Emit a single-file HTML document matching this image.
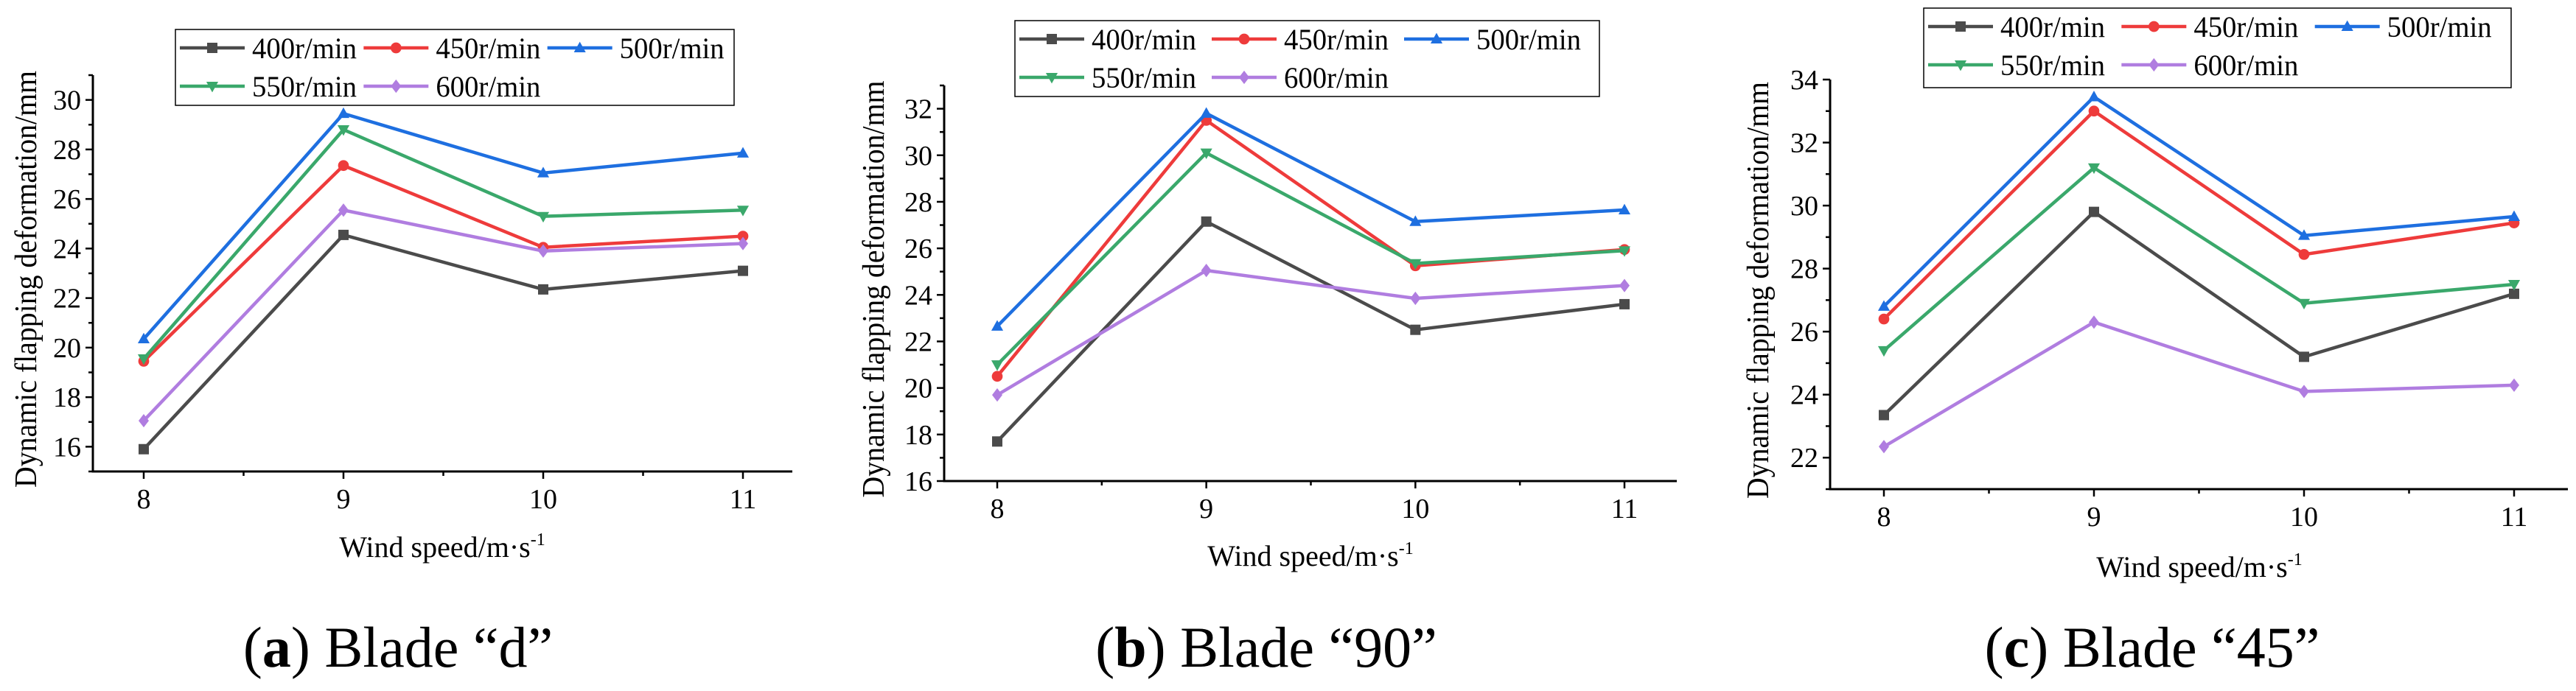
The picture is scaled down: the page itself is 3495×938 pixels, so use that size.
<!DOCTYPE html>
<html><head><meta charset="utf-8"><style>
html,body{margin:0;padding:0;background:#fff}
svg{display:block;font-family:"Liberation Serif",serif}
</style></head><body>
<svg id="fig" width="3495" height="938" viewBox="0 0 3495 938" xmlns="http://www.w3.org/2000/svg"></svg>
<script>
const windSpeeds = [8, 9, 10, 11];
const seriesNames = ["400r/min", "450r/min", "500r/min", "550r/min", "600r/min"];
const seriesColors = ["#4b4b4b", "#ee3b3b", "#1e6fe0", "#3aa86b", "#b07de0"];
const seriesMarkers = ["square", "circle", "up", "down", "diamond"];
const bladeD_400 = [15.9, 24.55, 22.35, 23.1];
const bladeD_450 = [19.45, 27.35, 24.05, 24.5];
const bladeD_500 = [20.35, 29.45, 27.05, 27.85];
const bladeD_550 = [19.55, 28.8, 25.3, 25.55];
const bladeD_600 = [17.05, 25.55, 23.9, 24.2];
const blade90_400 = [17.7, 27.15, 22.5, 23.6];
const blade90_450 = [20.5, 31.5, 25.25, 25.95];
const blade90_500 = [22.65, 31.8, 27.15, 27.65];
const blade90_550 = [21.0, 30.1, 25.35, 25.9];
const blade90_600 = [19.7, 25.05, 23.85, 24.4];
const blade45_400 = [23.35, 29.8, 25.2, 27.2];
const blade45_450 = [26.4, 33.0, 28.45, 29.45];
const blade45_500 = [26.8, 33.45, 29.05, 29.65];
const blade45_550 = [25.4, 31.2, 26.9, 27.5];
const blade45_600 = [22.35, 26.3, 24.1, 24.3];
const ticksA = [16, 18, 20, 22, 24, 26, 28, 30];
const ticksB = [16, 18, 20, 22, 24, 26, 28, 30, 32];
const ticksC = [22, 24, 26, 28, 30, 32, 34];

const NS = "http://www.w3.org/2000/svg";
const svg = document.getElementById("fig");
function mk(tag, attrs, parent, text) {
  const e = document.createElementNS(NS, tag);
  for (const k in attrs) e.setAttribute(k, attrs[k]);
  if (text !== undefined) e.textContent = text;
  (parent || svg).appendChild(e);
  return e;
}
function marker(g, type, x, y, c, s) {
  let m;
  if (type === "square") m = mk("rect", {x: x - s, y: y - s, width: 2 * s, height: 2 * s, fill: c}, g);
  else if (type === "circle") m = mk("circle", {cx: x, cy: y, r: s * 1.05, fill: c}, g);
  else if (type === "up") m = mk("polygon", {points: `${x},${y - s * 1.2} ${x - s * 1.15},${y + s * 0.85} ${x + s * 1.15},${y + s * 0.85}`, fill: c}, g);
  else if (type === "down") m = mk("polygon", {points: `${x},${y + s * 1.2} ${x - s * 1.15},${y - s * 0.85} ${x + s * 1.15},${y - s * 0.85}`, fill: c}, g);
  else m = mk("polygon", {points: `${x},${y - s * 1.3} ${x + s},${y} ${x},${y + s * 1.3} ${x - s},${y}`, fill: c}, g);
  
  
  return m;
}

const panels = [
  {id: "a", letter: "a", title: " Blade \u201cd\u201d", left: 126, right: 1075, top: 102, bottom: 640, xfirst: 195, xlast: 1008, ymin: 15, ymax: 31, ticks: ticksA,
   data: [bladeD_400, bladeD_450, bladeD_500, bladeD_550, bladeD_600], leg: [238, 40, 758, 103], ytx: 36, xtx: 600, xty: 756, capx: 540},
  {id: "b", letter: "b", title: " Blade \u201c90\u201d", left: 1281, right: 2275, top: 116, bottom: 653, xfirst: 1353, xlast: 2204, ymin: 16, ymax: 33, ticks: ticksB,
   data: [blade90_400, blade90_450, blade90_500, blade90_550, blade90_600], leg: [1377, 28, 793, 103], ytx: 1186, xtx: 1778, xty: 768, capx: 1718},
  {id: "c", letter: "c", title: " Blade \u201c45\u201d", left: 2483, right: 3484, top: 108, bottom: 664, xfirst: 2556, xlast: 3411, ymin: 21, ymax: 34, ticks: ticksC,
   data: [blade45_400, blade45_450, blade45_500, blade45_550, blade45_600], leg: [2610, 11, 797, 108], ytx: 2386, xtx: 2984, xty: 783, capx: 2920}
];

panels.forEach(p => {
  const g = mk("g", {});
  
  
  const xs = v => p.xfirst + (v - windSpeeds[0]) * (p.xlast - p.xfirst) / (windSpeeds[windSpeeds.length - 1] - windSpeeds[0]);
  const ys = v => p.bottom - (v - p.ymin) * (p.bottom - p.top) / (p.ymax - p.ymin);
  const ax = mk("path", {d: `M${p.left},${p.top} V${p.bottom} H${p.right}`, stroke: "#000", "stroke-width": 3, fill: "none"}, g);
  
  
  for (let v = p.ymin; v <= p.ymax; v += 1) {
    const major = p.ticks.includes(v);
    const t = mk("line", {x1: p.left, x2: p.left - (major ? 10 : 6), y1: ys(v), y2: ys(v), stroke: "#000", "stroke-width": 2.5}, g);
    
    
  }
  p.ticks.forEach(v => {
    const t = mk("text", {x: p.left - 16, y: ys(v) + 13, "text-anchor": "end", "font-size": 38}, g, String(v));
    
    
  });
  for (let i = 0; i < windSpeeds.length; i++) {
    const x = xs(windSpeeds[i]);
    const t = mk("line", {x1: x, x2: x, y1: p.bottom, y2: p.bottom + 10, stroke: "#000", "stroke-width": 2.5}, g);
    
    
    const l = mk("text", {x: x, y: p.bottom + 50, "text-anchor": "middle", "font-size": 38}, g, String(windSpeeds[i]));
    
    
    if (i < windSpeeds.length - 1) {
      const xm = xs(windSpeeds[i] + 0.5);
      const m = mk("line", {x1: xm, x2: xm, y1: p.bottom, y2: p.bottom + 6, stroke: "#000", "stroke-width": 2.5}, g);
      
      
    }
  }
  const xt = mk("text", {x: p.xtx, y: p.xty, "text-anchor": "middle", "font-size": 40}, g);
  
  
  xt.textContent = "Wind speed/m\u00b7s";
  mk("tspan", {dy: -16, "font-size": 24}, xt, "-1");
  const yt = mk("text", {x: 0, y: 0, transform: `translate(${p.ytx + 13},${(p.top + p.bottom) / 2 + 8}) rotate(-90)`, "text-anchor": "middle", "font-size": 42, textLength: 566, lengthAdjust: "spacingAndGlyphs"}, g, "Dynamic flapping deformation/mm");
  
  
  p.data.forEach((vals, si) => {
    const sg = mk("g", {}, g);
    
    
    const pts = vals.map((v, i) => `${xs(windSpeeds[i])},${ys(v)}`).join(" ");
    const pl = mk("polyline", {points: pts, fill: "none", stroke: seriesColors[si], "stroke-width": 4.5, "stroke-linejoin": "round"}, sg);
    
    
    vals.forEach((v, i) => marker(sg, seriesMarkers[si], xs(windSpeeds[i]), ys(v), seriesColors[si], 7));
  });
  const [lx, ly, lw, lh] = p.leg;
  const lg = mk("g", {}, g);
  
  
  mk("rect", {x: lx, y: ly, width: lw, height: lh, fill: "#fff", stroke: "#000", "stroke-width": 1.5}, lg);
  const colW = (lw - 10) / 3;
  seriesNames.forEach((n, si) => {
    const col = si < 3 ? si : si - 3, row = si < 3 ? 0 : 1;
    const ex = lx + 6 + col * colW, ey = ly + 25 + row * 52;
    const eg = mk("g", {}, lg);
    
    
    mk("line", {x1: ex, x2: ex + 88, y1: ey, y2: ey, stroke: seriesColors[si], "stroke-width": 4.5}, eg);
    marker(eg, seriesMarkers[si], ex + 44, ey, seriesColors[si], 7);
    mk("text", {x: ex + 98, y: ey + 14, "font-size": 40, textLength: 142, lengthAdjust: "spacingAndGlyphs"}, eg, n);
  });
  const cap = mk("text", {x: p.capx, y: 905, "text-anchor": "middle", "font-size": 78}, g);
  
  
  mk("tspan", {}, cap, "(");
  mk("tspan", {"font-weight": "bold"}, cap, p.letter);
  mk("tspan", {}, cap, ")" + p.title);
});
</script>
</body></html>
